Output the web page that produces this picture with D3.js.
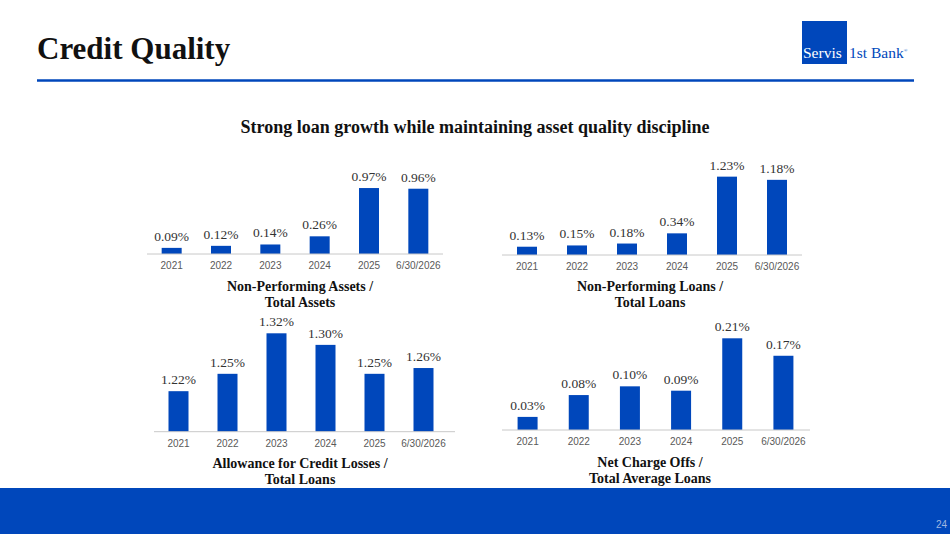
<!DOCTYPE html>
<html>
<head>
<meta charset="utf-8">
<script src="https://cdn.jsdelivr.net/npm/d3@7"></script>
<style>
  body { margin: 0; background: #fff; }
  svg { display: block; }
</style>
</head>
<body>
<svg id="slide" width="950" height="534"></svg>
<script>
const categories = ["2021", "2022", "2023", "2024", "2025", "6/30/2026"];

const npaValues = [0.09, 0.12, 0.14, 0.26, 0.97, 0.96];
const nplValues = [0.13, 0.15, 0.18, 0.34, 1.23, 1.18];
const aclValues = [1.22, 1.25, 1.32, 1.30, 1.25, 1.26];
const ncoValues = [0.03, 0.08, 0.10, 0.09, 0.21, 0.17];

const npaTitle = ["Non-Performing Assets /", "Total Assets"];
const nplTitle = ["Non-Performing Loans /", "Total Loans"];
const aclTitle = ["Allowance for Credit Losses /", "Total Loans"];
const ncoTitle = ["Net Charge Offs /", "Total Average Loans"];

const blue = "#0047bb";
const serif = "'Liberation Serif', 'DejaVu Serif', serif";
const sans = "'Liberation Sans', Arial, sans-serif";

const svg = d3.select("#slide");

// header
svg.append("text")
  .attr("x", 37).attr("y", 59)
  .style("font-family", serif).style("font-weight", "bold")
  .style("font-size", "31px").attr("fill", "#111")
  .text("Credit Quality");

svg.append("line")
  .attr("x1", 37).attr("x2", 914).attr("y1", 80.5).attr("y2", 80.5)
  .attr("stroke", blue).attr("stroke-width", 2.5);

// logo
svg.append("rect").attr("x", 802).attr("y", 21).attr("width", 45).attr("height", 43).attr("fill", blue);
svg.append("text").attr("x", 803).attr("y", 58)
  .style("font-family", serif).style("font-size", "15.5px").attr("fill", "#fff").text("Servis");
const bank = svg.append("text").attr("x", 849).attr("y", 58)
  .style("font-family", serif).style("font-size", "15.5px").attr("fill", blue).text("1st Bank");
bank.append("tspan").attr("dy", -6).style("font-size", "5px").text("®");

svg.append("text")
  .attr("x", 475).attr("y", 133).attr("text-anchor", "middle")
  .style("font-family", serif).style("font-weight", "bold")
  .style("font-size", "18px").attr("fill", "#111")
  .text("Strong loan growth while maintaining asset quality discipline");

// footer
svg.append("rect").attr("x", 0).attr("y", 488).attr("width", 950).attr("height", 46).attr("fill", blue);
svg.append("text").attr("x", 947).attr("y", 528).attr("text-anchor", "end")
  .style("font-family", sans).style("font-size", "10px").attr("fill", "#9fb6e0").text("24");

function drawChart(opts) {
  const g = svg.append("g");

  const x = d3.scaleBand()
    .domain(categories)
    .range([opts.x0, opts.x1]);

  const y = d3.scaleLinear()
    .domain(opts.domain)
    .range([opts.base, opts.top]);

  const barW = 20;

  g.selectAll(".bar")
    .data(opts.values)
    .enter()
    .append("rect")
    .attr("class", "bar")
    .attr("x", (d, i) => x(categories[i]) + x.bandwidth() / 2 - barW / 2)
    .attr("y", (d) => y(d))
    .attr("width", barW)
    .attr("height", (d) => opts.base - y(d))
    .attr("fill", blue);

  g.selectAll(".val")
    .data(opts.values)
    .enter()
    .append("text")
    .attr("class", "val")
    .attr("x", (d, i) => x(categories[i]) + x.bandwidth() / 2)
    .attr("y", (d) => y(d) - 7)
    .attr("text-anchor", "middle")
    .style("font-family", serif)
    .style("font-size", "13.5px")
    .attr("fill", "#333")
    .text((d) => d.toFixed(2) + "%");

  const axis = g.append("g")
    .attr("transform", `translate(0,${opts.base})`)
    .call(d3.axisBottom(x).tickSize(0).tickPadding(8));
  axis.select(".domain").attr("stroke", "#c8c8c8").attr("stroke-width", 1)
    .attr("d", `M${opts.x0},0H${opts.lineEnd}`);
  axis.selectAll("text")
    .style("font-family", sans).style("font-size", "10px").attr("fill", "#595959");

  const cx = opts.titleX;
  opts.title.forEach((t, i) => {
    g.append("text")
      .attr("x", cx).attr("y", opts.titleY + i * 16)
      .attr("text-anchor", "middle")
      .style("font-family", serif).style("font-weight", "bold")
      .style("font-size", "14px").attr("fill", "#111")
      .text(t);
  });
}

drawChart({ values: npaValues, title: npaTitle, x0: 147, x1: 443, lineEnd: 443,
  domain: [0, 1], base: 254, top: 186, titleX: 300, titleY: 291 });
drawChart({ values: nplValues, title: nplTitle, x0: 502, x1: 802, lineEnd: 802,
  domain: [0, 1], base: 255, top: 191.3, titleX: 650, titleY: 291 });
drawChart({ values: aclValues, title: aclTitle, x0: 154, x1: 448, lineEnd: 455,
  domain: [1.15, 1.32], base: 431.7, top: 333.3, titleX: 300, titleY: 468 });
drawChart({ values: ncoValues, title: ncoTitle, x0: 502, x1: 809, lineEnd: 810,
  domain: [0, 0.21], base: 430, top: 338.3, titleX: 650, titleY: 467 });
</script>
</body>
</html>
